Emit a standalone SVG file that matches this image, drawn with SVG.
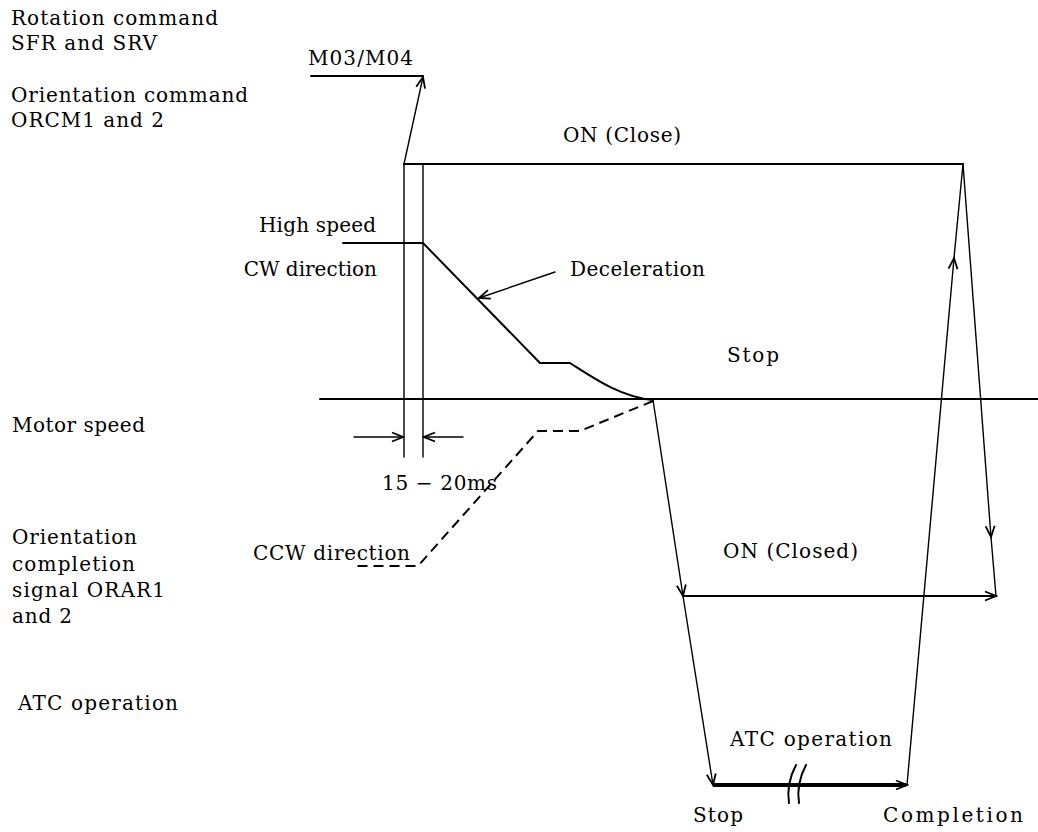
<svg xmlns="http://www.w3.org/2000/svg" width="1038" height="832" viewBox="0 0 1038 832">
<defs>
<style>
text{font-family:"DejaVu Serif","Liberation Serif",serif;font-size:20px;fill:#000}
.ln{fill:none;stroke:#000;stroke-width:2;stroke-linecap:round;stroke-linejoin:round}
.th{fill:none;stroke:#000;stroke-width:1.4;stroke-linecap:round}
.dash{fill:none;stroke:#000;stroke-width:2;stroke-dasharray:10 6}
.bold{fill:none;stroke:#000;stroke-width:4}
</style>
<marker id="ah" viewBox="-12 -6 14 12" refX="0" refY="0" markerWidth="14" markerHeight="12" markerUnits="userSpaceOnUse" orient="auto">
<path d="M-11,-4.5 L0,0 L-11,4.5" fill="none" stroke="#000" stroke-width="1.8"/>
</marker>
</defs>
<rect width="1038" height="832" fill="#fff"/>
<g id="labels">
<g id="rotation-label"><text x="11" y="25" textLength="207" lengthAdjust="spacing">Rotation command</text><text x="11" y="50" textLength="146" lengthAdjust="spacing">SFR and SRV</text></g>
<g id="m03-label"><text x="308" y="65" textLength="105" lengthAdjust="spacing">M03/M04</text></g>
<g id="orientation-label"><text x="11" y="102" textLength="237" lengthAdjust="spacing">Orientation command</text><text x="11" y="127" textLength="153" lengthAdjust="spacing">ORCM1 and 2</text></g>
<g id="on-close"><text x="563" y="142" textLength="118" lengthAdjust="spacing">ON (Close)</text></g>
<g id="high-speed"><text x="259" y="232" textLength="117" lengthAdjust="spacing">High speed</text></g>
<g id="cw-dir"><text x="377" y="276" text-anchor="end">CW direction</text></g>
<g id="decel"><text x="570" y="276" textLength="135" lengthAdjust="spacing">Deceleration</text></g>
<g id="stop-top"><text x="727" y="362" textLength="52" lengthAdjust="spacing">Stop</text></g>
<g id="motor-speed"><text x="12" y="432" textLength="133" lengthAdjust="spacing">Motor speed</text></g>
<g id="ms-label"><text x="382" y="490" textLength="115" lengthAdjust="spacing">15 − 20ms</text></g>
<g id="orar-label"><text x="12" y="544" textLength="125" lengthAdjust="spacing">Orientation</text><text x="12" y="571" textLength="123" lengthAdjust="spacing">completion</text><text x="12" y="597" textLength="153" lengthAdjust="spacing">signal ORAR1</text><text x="12" y="623" textLength="60" lengthAdjust="spacing">and 2</text></g>
<g id="ccw-dir"><text x="253" y="560" textLength="157" lengthAdjust="spacing">CCW direction</text></g>
<g id="on-closed"><text x="723" y="558" textLength="135" lengthAdjust="spacing">ON (Closed)</text></g>
<g id="atc-left"><text x="18" y="710" textLength="160" lengthAdjust="spacing">ATC operation</text></g>
<g id="atc-mid"><text x="730" y="746" textLength="162" lengthAdjust="spacing">ATC operation</text></g>
<g id="stop-bottom"><text x="693" y="822" textLength="50" lengthAdjust="spacing">Stop</text></g>
<g id="completion"><text x="883" y="822" textLength="140" lengthAdjust="spacing">Completion</text></g>
</g>
<g id="connectors">
<path class="ln" d="M311,76 H423"/>
<path class="th" d="M404,164 L423,77" marker-end="url(#ah)"/>
<path class="ln" d="M404,164 H963"/>
<path class="th" d="M404,164 V457 M423,164 V457"/>
<path class="ln" d="M343,243 H423 L540,363 H570 C592,377 620,397 653,400"/>
<path class="ln" d="M320,399 H1038"/>
<path class="dash" d="M653,401 L580,431 H538 L418,566 H355"/>
<path class="th" d="M354,437 H403" marker-end="url(#ah)"/>
<path class="th" d="M463,437 H424" marker-end="url(#ah)"/>
<path class="th" d="M555,272 L479,298" marker-end="url(#ah)"/>
<path class="th" d="M653,400 L683,596" marker-end="url(#ah)"/>
<path class="th" d="M683,596 L713,785" marker-end="url(#ah)"/>
<path class="ln" d="M683,596 H996" marker-end="url(#ah)"/>
<path class="th" d="M963,164 L991,537" marker-end="url(#ah)"/>
<path class="th" d="M991,537 L996,596"/>
<path class="bold" d="M713,785 H906"/>
<path class="th" d="M880,785 H907" marker-end="url(#ah)"/>
<path class="ln" d="M796,765 Q786,784 789,803 M806,765 Q796,784 799,803"/>
<path class="th" d="M907,785 L954,258" marker-end="url(#ah)"/>
<path class="th" d="M954,258 L963,164"/>
</g>
</svg>
